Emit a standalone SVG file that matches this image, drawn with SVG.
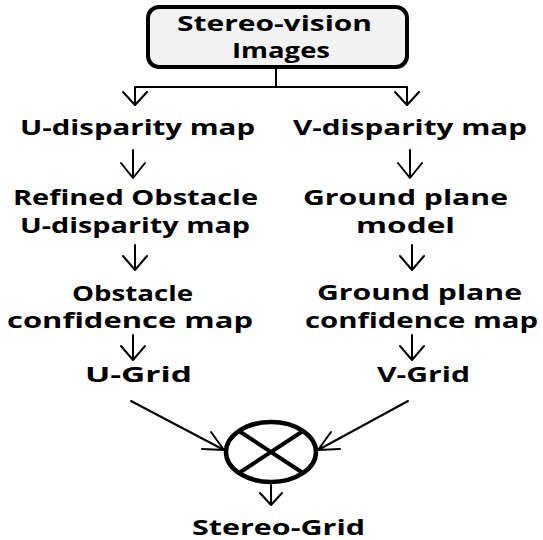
<svg xmlns="http://www.w3.org/2000/svg" width="543" height="540" viewBox="0 0 543 540">
  <style>
    .lbl { font-family: "Open Sans", "Liberation Sans", sans-serif; font-weight: 700; font-size: 21px; fill: #000; text-anchor: middle; }
    .conn { fill: none; stroke: #000; stroke-width: 2; stroke-linecap: round; stroke-linejoin: round; }
    .box { fill: #f2f2f2; stroke: #000; stroke-width: 4; }
    .op { fill: #fff; stroke: #000; stroke-width: 4.5; }
  </style>
  <rect width="543" height="540" fill="#fff"/>

  <!-- source node -->
  <g id="stereo-images">
    <rect class="box" x="148" y="7" width="259" height="60" rx="11"/>
    <text class="lbl" x="274.5" y="31" textLength="195" lengthAdjust="spacingAndGlyphs">Stereo-vision</text>
    <text class="lbl" x="281" y="58" textLength="98" lengthAdjust="spacingAndGlyphs">Images</text>
  </g>

  <!-- U branch -->
  <g id="u-disparity">
    <text class="lbl" x="137.5" y="135" textLength="235" lengthAdjust="spacingAndGlyphs">U-disparity map</text>
  </g>
  <g id="refined-obstacle">
    <text class="lbl" x="135.5" y="205" textLength="245" lengthAdjust="spacingAndGlyphs">Refined Obstacle</text>
    <text class="lbl" x="135" y="233" textLength="230" lengthAdjust="spacingAndGlyphs">U-disparity map</text>
  </g>
  <g id="obstacle-confidence">
    <text class="lbl" x="132.5" y="301" textLength="121" lengthAdjust="spacingAndGlyphs">Obstacle</text>
    <text class="lbl" x="130" y="328" textLength="246" lengthAdjust="spacingAndGlyphs">confidence map</text>
  </g>
  <g id="u-grid">
    <text class="lbl" x="138.5" y="382" textLength="107" lengthAdjust="spacingAndGlyphs">U-Grid</text>
  </g>

  <!-- V branch -->
  <g id="v-disparity">
    <text class="lbl" x="410" y="135" textLength="234" lengthAdjust="spacingAndGlyphs">V-disparity map</text>
  </g>
  <g id="ground-plane-model">
    <text class="lbl" x="405.5" y="205" textLength="205" lengthAdjust="spacingAndGlyphs">Ground plane</text>
    <text class="lbl" x="405.5" y="233" textLength="99" lengthAdjust="spacingAndGlyphs">model</text>
  </g>
  <g id="ground-plane-confidence">
    <text class="lbl" x="419.5" y="300" textLength="205" lengthAdjust="spacingAndGlyphs">Ground plane</text>
    <text class="lbl" x="421.5" y="328" textLength="233" lengthAdjust="spacingAndGlyphs">confidence map</text>
  </g>
  <g id="v-grid">
    <text class="lbl" x="423.5" y="382" textLength="93" lengthAdjust="spacingAndGlyphs">V-Grid</text>
  </g>

  <!-- fusion operator -->
  <g id="fusion">
    <ellipse class="op" cx="271" cy="452" rx="45" ry="30"/>
    <path d="M239 431 L303 473 M303 431 L239 473" stroke="#000" stroke-width="4" fill="none"/>
  </g>

  <g id="stereo-grid">
    <text class="lbl" x="278.5" y="535" textLength="173" lengthAdjust="spacingAndGlyphs">Stereo-Grid</text>
  </g>

  <!-- connectors -->
  <g id="connectors">
    <!-- split from source -->
    <path class="conn" d="M276 67 V87 M135 105 V87 H407 V105"/>
    <path class="conn" d="M123 92 L135 105 L147 92 M395 92 L407 105 L419 92"/>
    <!-- U branch arrows -->
    <path class="conn" d="M133 150 V178 M121 163 L133 178 L145 163"/>
    <path class="conn" d="M135 245 V270 M123 256 L135 270 L147 256"/>
    <path class="conn" d="M133 335 V360 M121 346 L133 360 L145 346"/>
    <!-- V branch arrows -->
    <path class="conn" d="M410 150 V178 M398 163 L410 178 L422 163"/>
    <path class="conn" d="M412 245 V270 M400 256 L412 270 L424 256"/>
    <path class="conn" d="M412 335 V360 M400 346 L412 360 L424 346"/>
    <!-- grids into operator -->
    <path class="conn" d="M131 401 L224 450 M202 449 L224 450 L211 432"/>
    <path class="conn" d="M408 401 L318 450 M340 449 L318 450 L331 432"/>
    <!-- operator to result -->
    <path class="conn" d="M271 485 V505 M260 493 L271 505 L282 493"/>
  </g>
</svg>
